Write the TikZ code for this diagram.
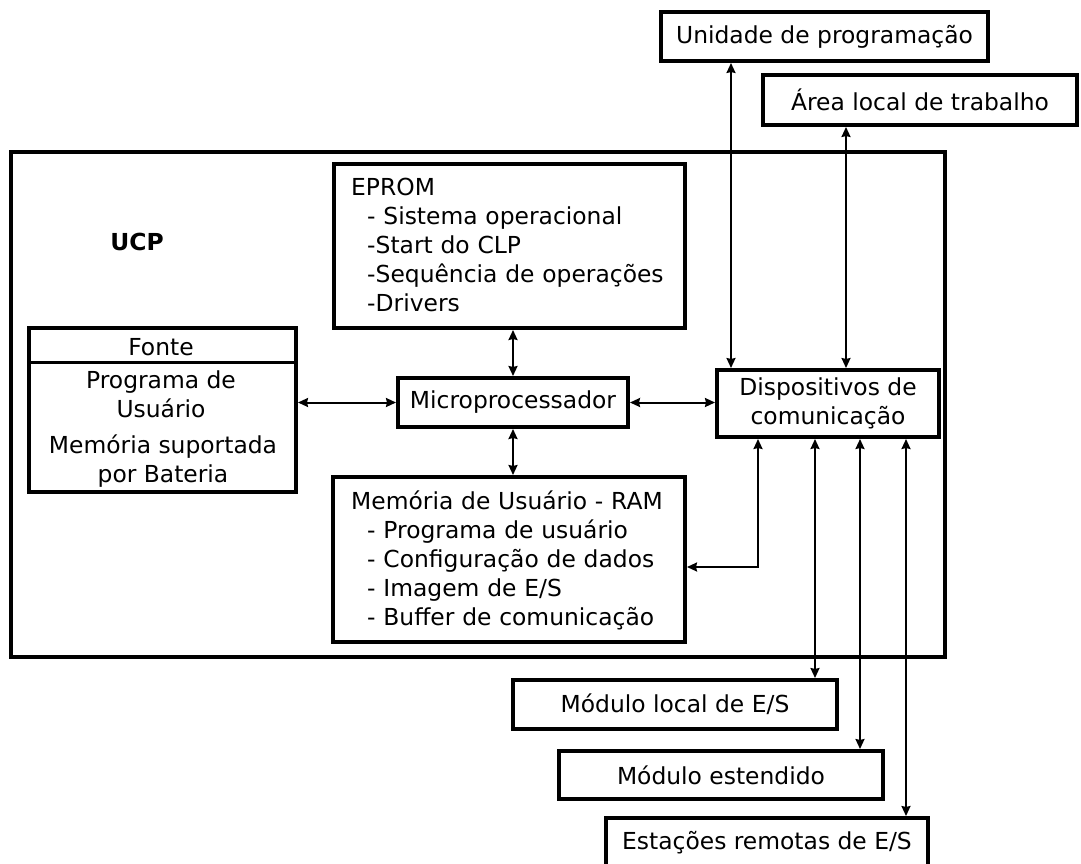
\documentclass[tikz,border=0pt]{standalone}
\usepackage{fontspec}
\setmainfont{DejaVu Sans}
\usetikzlibrary{arrows.meta,calc}
\begin{document}
\begin{tikzpicture}[x=1pt,y=-1pt,
  lbl/.style={font=\fontsize{23.4}{29}\selectfont},
  box/.style={draw, line width=4pt, fill=white, inner sep=0pt, lbl},
  txt/.style={inner sep=0pt, lbl},
  list/.style={inner sep=0pt, lbl, anchor=base west, align=left, text width=330pt},
  tip/.tip={Stealth[length=10pt,width=9pt,inset=1pt]},
  conn/.style={line width=2pt, tip-tip},
]
\useasboundingbox (0,0) rectangle (1081,863);

% CPU enclosure
\node[draw, line width=4pt, minimum width=934pt, minimum height=505pt, inner sep=0pt] (ucp) at (478,404.5) {};
\node[txt, font=\fontsize{23.4}{29}\selectfont\bfseries] (ucplbl) at (137,242) {UCP};

% inner blocks
\node[box, minimum width=351pt, minimum height=164pt] (eprom) at (509.5,246) {};
\node[list] (epromtxt) at (351,195) {EPROM\\
  \hspace*{16pt}- Sistema operacional\\
  \hspace*{16pt}-Start do CLP\\
  \hspace*{16pt}-Sequência de operações\\
  \hspace*{16pt}-Drivers};

\node[box, minimum width=230pt, minimum height=49pt] (micro) at (513,402.5) {Microprocessador};

\node[box, minimum width=352pt, minimum height=165pt] (ram) at (509,559.5) {};
\node[list] (ramtxt) at (351,509) {Memória de Usuário - RAM\\
  \hspace*{16pt}- Programa de usuário\\
  \hspace*{16pt}- Configuração de dados\\
  \hspace*{16pt}- Imagem de E/S\\
  \hspace*{16pt}- Buffer de comunicação};

\node[box, minimum width=267pt, minimum height=164pt] (fonte) at (162.5,410) {};
\draw[line width=3pt] (29,362) -- (296,362);
\node[txt] (fontetit) at (161,347) {Fonte};
\node[txt, align=center] (fonteprog) at (161,394) {Programa de\\Usuário};
\node[txt, align=center] (fontemem) at (163,461) {Memória suportada\\por Bateria};

\node[box, minimum width=222pt, minimum height=67pt, align=center] (disp) at (828,403.5) {Dispositivos de\\comunicação};

% external blocks
\node[box, minimum width=327pt, minimum height=49pt] (unid) at (824.5,36.5) {Unidade de programação};
\node[box, minimum width=314pt, minimum height=50pt] (area) at (920,100) {Área local de trabalho};
\node[box, minimum width=324pt, minimum height=49pt] (mlocal) at (675,704.5) {Módulo local de E/S};
\node[box, minimum width=324pt, minimum height=48pt] (mest) at (721,775) {Módulo estendido};
\node[box, minimum width=322pt, minimum height=50pt] (estac) at (767,843) {Estações remotas de E/S};

% bus positions
\coordinate (bu) at (731,0);
\coordinate (ba) at (846,0);
\coordinate (b1) at (815,0);
\coordinate (b2) at (860,0);
\coordinate (b3) at (906,0);
\coordinate (rj) at (758,567);

% connectors
\draw[conn] (unid.south -| bu) -- (disp.north -| bu);
\draw[conn] (area.south -| ba) -- (disp.north -| ba);
\draw[conn] (micro.north) -- (micro.north |- eprom.south);
\draw[conn] (micro.south) -- (micro.south |- ram.north);
\draw[conn] (fonte.east |- micro.west) -- (micro.west);
\draw[conn] (micro.east) -- (disp.west |- micro.east);
\draw[conn] (ram.east |- rj) -- (rj) -- (disp.south -| rj);
\draw[conn] (disp.south -| b1) -- (mlocal.north -| b1);
\draw[conn] (disp.south -| b2) -- (mest.north -| b2);
\draw[conn] (disp.south -| b3) -- (estac.north -| b3);
\end{tikzpicture}
\end{document}
